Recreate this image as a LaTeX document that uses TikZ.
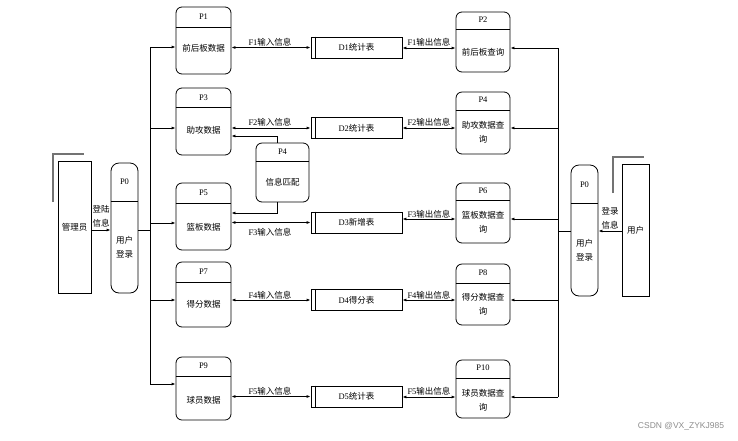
\documentclass[tikz,border=0pt]{standalone}
\usepackage{fontspec}
\setmainfont{Liberation Serif}
\newfontfamily\cjk{Noto Sans CJK SC}
\newfontfamily\wmfont{Liberation Sans}
\usetikzlibrary{arrows.meta}
\tikzset{
  txt/.style={font=\fontsize{8.5}{14}\selectfont, inner sep=0pt, align=center},
  procbox/.style={draw, line width=0.8pt, rounded corners=6pt, inner sep=0pt},
  entbox/.style={draw, line width=0.8pt, inner sep=0pt, font=\fontsize{8.5}{14}\selectfont},
  storebox/.style={draw, line width=0.8pt, inner sep=0pt, minimum width=91pt, minimum height=21pt, font=\fontsize{8.5}{14}\selectfont},
  divline/.style={line width=0.8pt},
  link/.style={line width=0.8pt},
  arr/.style={line width=0.8pt, -{Latex[length=4pt,width=3pt]}},
  darr/.style={line width=0.8pt, {Latex[length=4pt,width=3pt]}-{Latex[length=4pt,width=3pt]}},
  shade/.style={line width=1.2pt, draw=black!55},
  bus/.style={line width=0.9pt},
}
\begin{document}
\begin{tikzpicture}[x=1pt,y=-1pt]
\useasboundingbox (0,0) rectangle (738,440);

% ---------- external entities ----------
\draw[shade] (53,202) -- (53,154) -- (84,154);
\node[entbox, minimum width=33pt, minimum height=132pt] (admin) at (74.5,227) {\cjk 管理员};
\draw[shade] (613,193) -- (613,157) -- (644,157);
\node[entbox, minimum width=27pt, minimum height=132pt] (user) at (635.5,230) {\cjk 用户};

% ---------- login processes ----------
\node[procbox, rounded corners=8pt, minimum width=27pt, minimum height=130pt] (p0l) at (124.5,228) {};
\draw[divline] (p0l.west |- 0,201) -- (p0l.east |- 0,201);
\node[txt] (p0lh) at (124.5,182) {P0};
\node[txt] (p0lt) at (124.5,247) {\cjk 用户\\\cjk 登录};

\node[procbox, rounded corners=8pt, minimum width=27pt, minimum height=131pt] (p0r) at (584.5,230.5) {};
\draw[divline] (p0r.west |- 0,203) -- (p0r.east |- 0,203);
\node[txt] (p0rh) at (584.5,185) {P0};
\node[txt] (p0rt) at (584.5,250) {\cjk 用户\\\cjk 登录};

% ---------- left processes ----------
\node[procbox, minimum width=55pt, minimum height=67pt] (p1) at (203.5,40.5) {};
\draw[divline] (p1.west |- 0,27) -- (p1.east |- 0,27);
\node[txt] (p1h) at (203.5,17) {P1};
\node[txt] (p1t) at (203.5,48) {\cjk 前后板数据};

\node[procbox, minimum width=55pt, minimum height=67pt] (p3) at (203.5,121.5) {};
\draw[divline] (p3.west |- 0,107) -- (p3.east |- 0,107);
\node[txt] (p3h) at (203.5,98) {P3};
\node[txt] (p3t) at (203.5,130) {\cjk 助攻数据};

\node[procbox, minimum width=55pt, minimum height=67pt] (p5) at (203.5,216.5) {};
\draw[divline] (p5.west |- 0,203) -- (p5.east |- 0,203);
\node[txt] (p5h) at (203.5,193) {P5};
\node[txt] (p5t) at (203.5,227) {\cjk 篮板数据};

\node[procbox, minimum width=55pt, minimum height=65pt] (p7) at (203.5,294.5) {};
\draw[divline] (p7.west |- 0,282) -- (p7.east |- 0,282);
\node[txt] (p7h) at (203.5,272) {P7};
\node[txt] (p7t) at (203.5,304) {\cjk 得分数据};

\node[procbox, minimum width=55pt, minimum height=63pt] (p9) at (203.5,388.5) {};
\draw[divline] (p9.west |- 0,376) -- (p9.east |- 0,376);
\node[txt] (p9h) at (203.5,366) {P9};
\node[txt] (p9t) at (203.5,400) {\cjk 球员数据};

% ---------- matching process ----------
\node[procbox, minimum width=53pt, minimum height=59pt] (p4m) at (282.5,172.5) {};
\draw[divline] (p4m.west |- 0,161) -- (p4m.east |- 0,161);
\node[txt] (p4mh) at (282.5,152) {P4};
\node[txt] (p4mt) at (282.5,182) {\cjk 信息匹配};

% ---------- right processes ----------
\node[procbox, minimum width=54pt, minimum height=60pt] (p2) at (483,42) {};
\draw[divline] (p2.west |- 0,29) -- (p2.east |- 0,29);
\node[txt] (p2h) at (483,20) {P2};
\node[txt] (p2t) at (483,52) {\cjk 前后板查询};

\node[procbox, minimum width=54pt, minimum height=62pt] (p4) at (483,123) {};
\draw[divline] (p4.west |- 0,110) -- (p4.east |- 0,110);
\node[txt] (p4h) at (483,100) {P4};
\node[txt] (p4t) at (483,132.5) {\cjk 助攻数据查\\\cjk 询};

\node[procbox, minimum width=54pt, minimum height=60pt] (p6) at (483,213) {};
\draw[divline] (p6.west |- 0,200) -- (p6.east |- 0,200);
\node[txt] (p6h) at (483,191) {P6};
\node[txt] (p6t) at (483,222) {\cjk 篮板数据查\\\cjk 询};

\node[procbox, minimum width=54pt, minimum height=61pt] (p8) at (483,294.5) {};
\draw[divline] (p8.west |- 0,283) -- (p8.east |- 0,283);
\node[txt] (p8h) at (483,273) {P8};
\node[txt] (p8t) at (483,304) {\cjk 得分数据查\\\cjk 询};

\node[procbox, minimum width=54pt, minimum height=58pt] (p10) at (483,389) {};
\draw[divline] (p10.west |- 0,378) -- (p10.east |- 0,378);
\node[txt] (p10h) at (483,368) {P10};
\node[txt] (p10t) at (483,400) {\cjk 球员数据查\\\cjk 询};

% ---------- data stores ----------
\foreach \n/\y/\t in {d1/47.5/D1{\cjk 统计表}, d2/128/D2{\cjk 统计表}, d3/222.5/D3{\cjk 新增表}, d4/300/D4{\cjk 得分表}, d5/396.5/D5{\cjk 统计表}}{
  \node[storebox] (\n) at (356.5,\y) {\t};
  \draw[divline] ([xshift=5pt]\n.north west) -- ([xshift=5pt]\n.south west);
}

% ---------- login flows ----------
\draw[arr] (admin.east |- 0,230) -- (p0l.west |- 0,230);
\node[txt] (lgl) at (101,216) {\cjk 登陆\\\cjk 信息};
\draw[arr] (user.west |- 0,231) -- (p0r.east |- 0,231);
\node[txt] (lgr) at (610,218) {\cjk 登录\\\cjk 信息};

% ---------- left bus ----------
\coordinate (bl0) at (150,230);
\coordinate (bl1) at (150,47);
\coordinate (bl3) at (150,128);
\coordinate (bl5) at (150,223);
\coordinate (bl7) at (150,300);
\coordinate (bl9) at (150,384);
\draw[link] (p0l.east |- bl0) -- (bl0);
\draw[bus] (bl1) -- (bl9);
\foreach \c/\p in {bl1/p1, bl3/p3, bl5/p5, bl7/p7, bl9/p9}
  \draw[arr] (\c) -- (\p.west |- \c);

% ---------- right bus ----------
\coordinate (br0) at (558,231);
\coordinate (br2) at (558,48);
\coordinate (br4) at (558,128);
\coordinate (br6) at (558,219);
\coordinate (br8) at (558,300);
\coordinate (br10) at (558,397);
\draw[link] (p0r.west |- br0) -- (br0);
\draw[bus] (br2) -- (br10);
\foreach \c/\p in {br2/p2, br4/p4, br6/p6, br8/p8, br10/p10}
  \draw[arr] (\c) -- (\p.east |- \c);

% ---------- input flows ----------
\draw[darr] (p1.east |- d1) -- (d1.west);
\draw[darr] (p3.east |- d2) -- (d2.west);
\draw[darr] (p5.east |- d3) -- (d3.west);
\draw[darr] (p7.east |- d4) -- (d4.west);
\draw[darr] (p9.east |- d5) -- (d5.west);
\node[txt] (f1i) at (270,42) {F1\cjk 输入信息};
\node[txt] (f2i) at (270,122) {F2\cjk 输入信息};
\node[txt] (f3i) at (270,232) {F3\cjk 输入信息};
\node[txt] (f4i) at (270,295) {F4\cjk 输入信息};
\node[txt] (f5i) at (270,391) {F5\cjk 输入信息};

% ---------- output flows ----------
\draw[darr] (d1.east |- br2) -- (p2.west |- br2);
\draw[darr] (d2.east |- br4) -- (p4.west |- br4);
\draw[darr] (d3.east |- br6) -- (p6.west |- br6);
\draw[darr] (d4.east |- br8) -- (p8.west |- br8);
\draw[darr] (d5.east |- br10) -- (p10.west |- br10);
\node[txt] (f1o) at (429,42) {F1\cjk 输出信息};
\node[txt] (f2o) at (429,122) {F2\cjk 输出信息};
\node[txt] (f3o) at (429,214) {F3\cjk 输出信息};
\node[txt] (f4o) at (429,295) {F4\cjk 输出信息};
\node[txt] (f5o) at (429,391) {F5\cjk 输出信息};

% ---------- matching links ----------
\draw[arr] (277,0 |- p4m.north) -- (277,136) -- (p3.east |- 0,136);
\draw[arr] (277,0 |- p4m.south) -- (277,213) -- (p5.east |- 0,213);

% ---------- footer ----------
\node[font=\wmfont\fontsize{8.5}{10}\selectfont, text=black!45, inner sep=0pt] (wm) at (681,426) {CSDN @VX\_ZYKJ985};
\end{tikzpicture}
\end{document}
